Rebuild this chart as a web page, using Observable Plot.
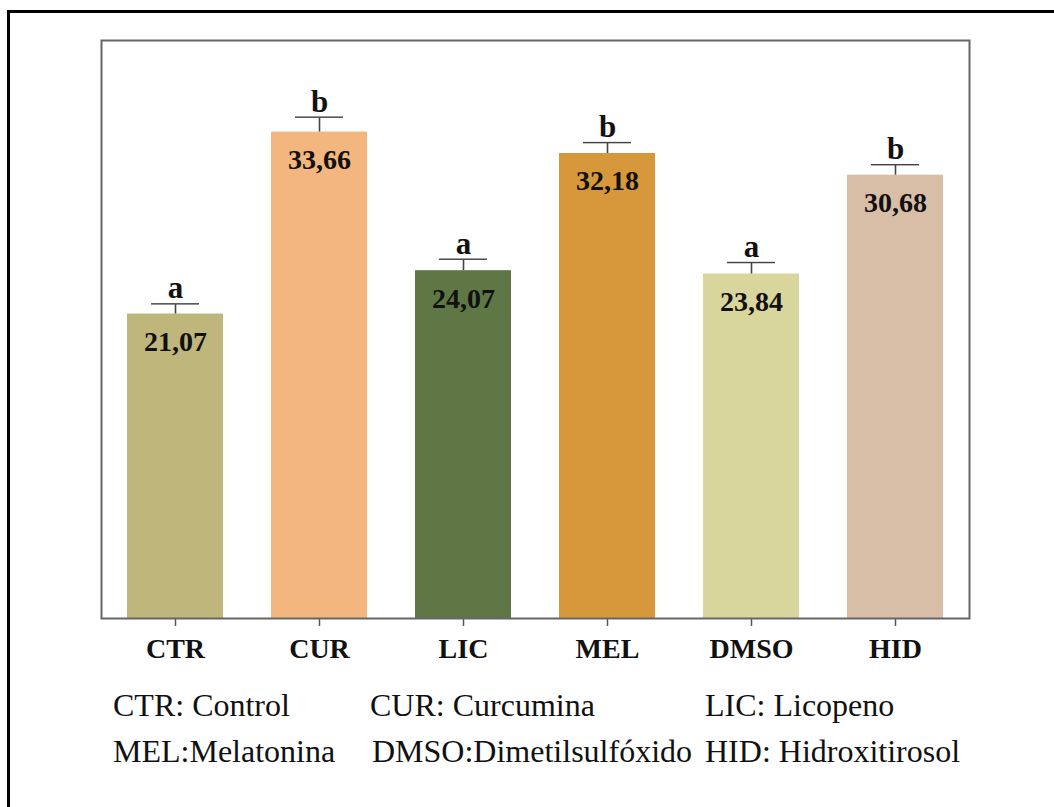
<!DOCTYPE html>
<html>
<head>
<meta charset="utf-8">
<script src="https://cdn.jsdelivr.net/npm/d3@7"></script>
<script src="https://cdn.jsdelivr.net/npm/@observablehq/plot@0.6"></script>
<style>
  html, body { margin: 0; padding: 0; background: #fff; overflow: hidden; }
  #page { position: relative; width: 1054px; height: 807px; overflow: hidden; }
  #border { position: absolute; left: 7px; top: 10px; width: 1200px; height: 1000px;
            border-left: 3px solid #000; border-top: 3px solid #000; }
  #chart { position: absolute; left: 0; top: 0; }
  .leg { position: absolute; font-family: "Liberation Serif", "Times New Roman", serif;
         font-size: 32px; line-height: 32px; white-space: nowrap; color: #111; }
</style>
</head>
<body>
<div id="page">
  <div id="border"></div>
  <div id="chart"></div>
  <div id="legend"></div>
</div>
<script>
const categories = ["CTR", "CUR", "LIC", "MEL", "DMSO", "HID"];
const means = [21.07, 33.66, 24.07, 32.18, 23.84, 30.68];
const errors = [0.67, 1.0, 0.76, 0.72, 0.76, 0.69];
const letters = ["a", "b", "a", "b", "a", "b"];
const palette = ["#bfb67c", "#f2b67e", "#5f7745", "#d6983b", "#d8d69c", "#d9bea7"];
const legendRows = [
  ["CTR: Control", "CUR: Curcumina", "LIC: Licopeno"],
  ["MEL:Melatonina", "DMSO:Dimetilsulfóxido", "HID: Hidroxitirosol"]
];

const data = categories.map((c, i) => ({
  cat: c, mean: means[i], err: errors[i], top: means[i] + errors[i],
  letter: letters[i], label: means[i].toFixed(2).replace(".", ",")
}));

const serif = '"Liberation Serif", "Times New Roman", serif';
const W = 1054, H = 680;
const capHalf = 0.05; // half thickness of the error-bar cap, in data units

const chart = Plot.plot({
  width: W,
  height: H,
  marginLeft: 101,
  marginRight: 85,
  marginTop: 40,
  marginBottom: 62,
  style: { fontFamily: serif, background: "transparent", color: "#111" },
  x: { domain: categories, paddingInner: 0.33, paddingOuter: 0.165, label: null },
  y: { domain: [0, 40], axis: null },
  color: { domain: categories, range: palette },
  marks: [
    Plot.barY(data, { x: "cat", y: "mean", fill: "cat" }),
    Plot.ruleX(data, { x: "cat", y1: "mean", y2: "top", stroke: "#444", strokeWidth: 1.6 }),
    Plot.barY(data, { x: "cat", y1: d => d.top - capHalf, y2: d => d.top + capHalf,
      fill: "#444", insetLeft: 24, insetRight: 24 }),
    Plot.text(data, { x: "cat", y: "top", text: "letter", dy: -6, lineAnchor: "bottom",
      fontSize: 31, fontWeight: "bold", fill: "#111" }),
    Plot.text(data, { x: "cat", y: "mean", text: "label", dy: 28, lineAnchor: "middle",
      fontSize: 28, fontWeight: "bold", fill: "#111" }),
    Plot.axisX({ tickSize: 8, tickPadding: 12, fontSize: 28, fontWeight: "bold",
      stroke: "#555", strokeWidth: 1.5, fill: "#111", label: null }),
    Plot.frame({ stroke: "#666", strokeWidth: 2 })
  ]
});
document.getElementById("chart").appendChild(chart);

const legend = document.getElementById("legend");
const colX = [[113, 370, 705], [113, 372, 705]];
const rowTop = [689, 735];
legendRows.forEach((row, r) => {
  row.forEach((t, c) => {
    const d = document.createElement("div");
    d.className = "leg";
    d.style.left = colX[r][c] + "px";
    d.style.top = rowTop[r] + "px";
    d.textContent = t;
    legend.appendChild(d);
  });
});
</script>
</body>
</html>
